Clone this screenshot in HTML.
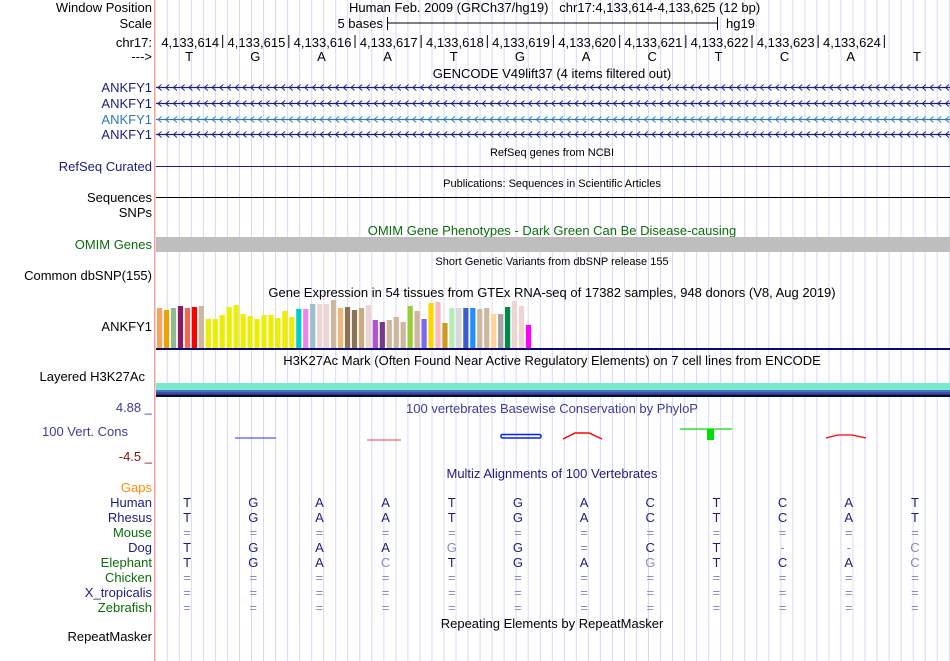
<!DOCTYPE html>
<html><head><meta charset="utf-8"><style>
html,body{margin:0;padding:0;background:#fff;}
svg{display:block;font-family:"Liberation Sans",sans-serif;}
</style></head><body>
<svg id="g" width="950" height="661" xmlns="http://www.w3.org/2000/svg">
<g id="grid"></g>
<rect x="154" y="0" width="1.5" height="661" fill="#f4a0a0"/>
<g font-size="13" text-anchor="end" fill="#000">
<text x="152" y="12">Window Position</text>
<text x="152" y="28">Scale</text>
<text x="152" y="47">chr17:</text>
<text x="152" y="61">---&gt;</text>
<text x="152" y="92" fill="#1c1c80">ANKFY1</text>
<text x="152" y="108" fill="#1c1c80">ANKFY1</text>
<text x="152" y="124" fill="#2b7bb5">ANKFY1</text>
<text x="152" y="139" fill="#1c1c80">ANKFY1</text>
<text x="152" y="171" fill="#1c1c80">RefSeq Curated</text>
<text x="152" y="202">Sequences</text>
<text x="152" y="217">SNPs</text>
<text x="152" y="249" fill="#0b6e0b">OMIM Genes</text>
<text x="152" y="280">Common dbSNP(155)</text>
<text x="152" y="331">ANKFY1</text>
<text x="145" y="381">Layered H3K27Ac</text>
<text x="152" y="412" fill="#3c3c9a">4.88 _</text>
<text x="128" y="436" fill="#3c3c9a">100 Vert. Cons</text>
<text x="152" y="461" fill="#8a1010">-4.5 _</text>
<text x="152" y="492" fill="#ff8c00">Gaps</text>
<text x="152" y="641">RepeatMasker</text>
</g>
<g id="species" font-size="13" text-anchor="end"></g>
<g font-size="13" fill="#000">
<text x="349" y="12">Human Feb. 2009 (GRCh37/hg19)&#160;&#160;&#160;chr17:4,133,614-4,133,625 (12 bp)</text>
<text x="383" y="28" text-anchor="end">5 bases</text>
<line x1="387" y1="23" x2="717" y2="23" stroke="#000"/>
<line x1="387.5" y1="17" x2="387.5" y2="30" stroke="#000"/>
<line x1="717.5" y1="17" x2="717.5" y2="30" stroke="#000"/>
<text x="726" y="28">hg19</text>
</g>
<g id="ruler" font-size="13"></g>
<g font-size="13" text-anchor="middle">
<text x="552" y="78">GENCODE V49lift37 (4 items filtered out)</text>
<text x="552" y="156" font-size="11">RefSeq genes from NCBI</text>
<text x="552" y="187" font-size="11">Publications: Sequences in Scientific Articles</text>
<text x="552" y="235" fill="#0b6e0b">OMIM Gene Phenotypes - Dark Green Can Be Disease-causing</text>
<text x="552" y="265" font-size="11">Short Genetic Variants from dbSNP release 155</text>
<text x="552" y="297">Gene Expression in 54 tissues from GTEx RNA-seq of 17382 samples, 948 donors (V8, Aug 2019)</text>
<text x="552" y="365">H3K27Ac Mark (Often Found Near Active Regulatory Elements) on 7 cell lines from ENCODE</text>
<text x="552" y="413" fill="#3c3c9a">100 vertebrates Basewise Conservation by PhyloP</text>
<text x="552" y="478" fill="#1c1c80">Multiz Alignments of 100 Vertebrates</text>
<text x="552" y="628">Repeating Elements by RepeatMasker</text>
</g>
<g id="genes"></g>
<line x1="156" y1="166.5" x2="950" y2="166.5" stroke="#1c1c80"/>
<line x1="156" y1="197.5" x2="950" y2="197.5" stroke="#000"/>
<rect x="156" y="237" width="794" height="15" fill="#bebebe"/>
<g id="gtex"></g>
<rect x="156" y="348" width="794" height="2" fill="#0a0a6e"/>
<g>
<rect x="156" y="383" width="794" height="7" fill="#78e8cf"/>
<rect x="156" y="390" width="794" height="2" fill="#5070c8"/>
<rect x="156" y="392" width="794" height="2" fill="#3a50a8"/>
<rect x="156" y="394" width="794" height="1" fill="#2a3070"/>
<rect x="156" y="395" width="794" height="2" fill="#0a0a40"/>
</g>
<g>
<line x1="235" y1="438" x2="276" y2="438" stroke="#2030ff" stroke-width="1"/>
<line x1="367" y1="440" x2="401" y2="440" stroke="#ff4040" stroke-width="1"/>
<rect x="501" y="434.5" width="40" height="3.5" rx="1.5" fill="none" stroke="#0020ff" stroke-width="1.5"/>
<path d="M563 439 L575 433 L589 433 L602 439" fill="none" stroke="#ff0000" stroke-width="1.5"/>
<line x1="680" y1="429" x2="732" y2="429" stroke="#00e000" stroke-width="1.2"/>
<rect x="707" y="429" width="7" height="11" fill="#00e000"/>
<path d="M826 438 L838 435 L852 435 L866 438" fill="none" stroke="#ff0000" stroke-width="1.2"/>
</g>
<g id="align" font-size="13" text-anchor="middle"></g>
</svg>
<script>
const NS="http://www.w3.org/2000/svg";
const positions=["4,133,614","4,133,615","4,133,616","4,133,617","4,133,618","4,133,619","4,133,620","4,133,621","4,133,622","4,133,623","4,133,624"];
const bases=["T","G","A","A","T","G","A","C","T","C","A","T"];
const species=["Human","Rhesus","Mouse","Dog","Elephant","Chicken","X_tropicalis","Zebrafish"];
const speciesColor=["#1c1c80","#1c1c80","#0b6e0b","#1c1c80","#0b6e0b","#0b6e0b","#1c1c80","#0b6e0b"];
const alignRows=[
"TGAATGACTCAT","TGAATGACTCAT","============","TGAAgG=CT--c","TGAcTGAgTCAc","============","============","============"];
const gtexValues=[40,38,40,42,40,41,42,29,29,33,41,43,34,32,29,33,33,30,37,31,39,39,44,44,44,48,40,41,38,40,43,28,26,28,31,26,42,37,29,45,46,25,40,40,40,40,39,40,34,34,41,47,42,23];
const gtexColors=["#f7a35c","#f0a000","#8fbc8f","#8b1a62","#ee6a50","#ff0000","#cdb79e","#eeee00","#eeee00","#eeee00","#eeee00","#eeee00","#eeee00","#eeee00","#eeee00","#eeee00","#eeee00","#eeee00","#eeee00","#eeee00","#00cdcd","#ee82ee","#9ac0cd","#eed5d2","#eed5d2","#cdb79e","#eeb978","#8b7355","#8b7355","#cdaa7d","#eed5d2","#b452cd","#7a378b","#cdb79e","#cdb79e","#cdb79e","#9acd32","#cdb79e","#7b68ee","#ffd700","#ffb6c1","#cd9b1d","#b4eeb4","#d9d9d9","#3a5fcd","#1e90ff","#cdb79e","#cdb79e","#ffd39b","#a6a6a6","#008b45","#eed5d2","#eed5d2","#ff00ff"];
const X0=156, BW=(950-156)/12;
function xBase(i){return X0+BW*i;}
function mk(tag,attrs,parent,txt){const e=document.createElementNS(NS,tag);for(const k in attrs)e.setAttribute(k,attrs[k]);if(txt!==undefined)e.textContent=txt;parent.appendChild(e);return e;}
// grid
const grid=document.getElementById('grid');
for(let x=167.3;x<950;x+=12.03){const l=mk('line',{x1:x,y1:0,x2:x,y2:661,stroke:'#d8d8f4','stroke-width':1},grid);

}
// ruler
const ruler=document.getElementById('ruler');
positions.forEach((p,i)=>{const xb=xBase(i+1);
const t=mk('text',{x:xb-3,y:47,'text-anchor':'end'},ruler,p);


const l=mk('line',{x1:xb+0.5,y1:35,x2:xb+0.5,y2:48,stroke:'#000'},ruler);

});
bases.forEach((b,i)=>{const t=mk('text',{x:xBase(i)+BW/2,y:61,'text-anchor':'middle'},ruler,b);

});
// genes
const genes=document.getElementById('genes');
[[87,'#1c1c80'],[103,'#1c1c80'],[119,'#2b7bb5'],[134,'#1c1c80']].forEach(([y,c])=>{
const g=mk('g',{},genes);


mk('line',{x1:156,y1:y+0.5,x2:950,y2:y+0.5,stroke:c,'stroke-width':1.3},g);
let d='';for(let x=158;x<948;x+=7.72){d+=`M${x+3.5} ${y-2.5}L${x} ${y+0.5}L${x+3.5} ${y+3.5}`;}
mk('path',{d:d,stroke:c,fill:'none','stroke-width':0.9},g);});
// gtex
const gtex=document.getElementById('gtex');
const PITCH=6.96, BASE=348;
function yScale(v){return v*1.0;}
gtexValues.forEach((v,i)=>{const h=yScale(v);
const r=mk('rect',{x:X0+1+PITCH*i,y:BASE-h,width:5.2,height:h,fill:gtexColors[i]},gtex);

});
// species labels & alignment
const sp=document.getElementById('species'), al=document.getElementById('align');
species.forEach((s,r)=>{const y=507+15*r;
const t=mk('text',{x:152,y:y,fill:speciesColor[r]},sp,s);


alignRows[r].split('').forEach((ch,i)=>{const faded=(ch==='='||ch==='-'||ch!==ch.toUpperCase());
const a=mk('text',{x:xBase(i)+BW/2-2,y:y,fill:faded?'#8a8ac0':'#1c1c80'},al,ch.toUpperCase());

});});
</script>
</body></html>
